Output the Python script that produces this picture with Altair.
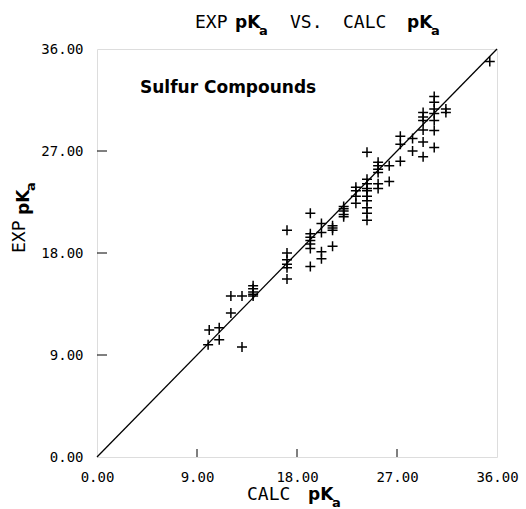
import altair as alt
import pandas as pd

# ---- data ----
calc = [10.0, 10.1, 11.0, 11.0, 12.05, 12.05, 13.05, 13.05,
        14.05, 14.05, 14.05, 14.05, 14.05,
        17.1, 17.1, 17.1, 17.1, 17.1, 17.1,
        19.2, 19.2, 19.2, 19.2, 19.2, 19.2, 19.2,
        20.2, 20.2, 20.2, 20.2,
        21.2, 21.2, 21.2, 21.2,
        22.2, 22.2, 22.2, 22.2, 22.2,
        23.3, 23.3, 23.3, 23.3,
        24.3, 24.3, 24.3, 24.3, 24.3, 24.3, 24.3, 24.3, 24.3, 24.3,
        25.3, 25.3, 25.3, 25.3, 25.3, 25.3,
        26.3, 26.3,
        27.3, 27.3, 27.3,
        28.4, 28.4,
        29.35, 29.35, 29.35, 29.35, 29.35, 29.35,
        30.35, 30.35, 30.35, 30.35, 30.35, 30.35, 30.35,
        31.4, 31.4,
        35.35]
exp = [9.9, 11.2, 11.4, 10.35, 12.7, 14.2, 14.2, 9.7,
       15.1, 14.85, 14.55, 14.35, 14.2,
       20.0, 18.0, 17.4, 17.0, 16.7, 15.7,
       21.5, 19.7, 19.4, 19.1, 18.8, 18.4, 16.8,
       20.6, 19.8, 18.1, 17.5,
       20.4, 20.2, 20.0, 18.6,
       22.1, 21.9, 21.7, 21.4, 21.2,
       23.8, 23.5, 23.0, 22.4,
       26.9, 24.5, 24.1, 23.7, 23.5, 23.0, 22.6, 22.0, 21.5, 20.9,
       26.0, 25.7, 25.4, 25.1, 24.1, 23.7,
       25.7, 24.3,
       28.3, 27.6, 26.1,
       28.1, 27.0,
       30.4, 30.0, 29.7, 28.85, 27.8, 26.5,
       31.8, 31.3, 30.7, 30.3, 29.7, 28.8, 27.3,
       30.7, 30.4,
       34.9]
axis_values = [0, 9, 18, 27, 36]
inner_ticks = [9, 18, 27]
diag = [0, 36]

W, H = 400, 408
MONO = "DejaVu Sans Mono"
SANS = "DejaVu Sans"

pts = pd.DataFrame({"calc": calc, "exp": exp})
xs = alt.Scale(domain=[0, 36], nice=False, zero=False)
ys = alt.Scale(domain=[0, 36], nice=False, zero=False)

xaxis = alt.Axis(values=axis_values, format=".2f", tickSize=0, domain=False,
                 grid=False, title=None, labelFont=MONO, labelFontSize=14,
                 labelPadding=13, labelColor="black", labelFlush=False)
yaxis = alt.Axis(values=axis_values, format=".2f", tickSize=0, domain=False,
                 grid=False, title=None, labelFont=MONO, labelFontSize=14,
                 labelPadding=14, labelColor="black", labelFlush=False)

line = alt.Chart(pd.DataFrame({"a": diag, "b": diag})).mark_line(
    color="black", strokeWidth=1.3
).encode(
    x=alt.X("a:Q", scale=xs, axis=xaxis),
    y=alt.Y("b:Q", scale=ys, axis=yaxis),
)

plus = "M-1,0L1,0M0,-1L0,1"
points = alt.Chart(pts).mark_point(
    shape=plus, size=100, strokeWidth=1.5, color="black", opacity=1, filled=False
).encode(
    x=alt.X("calc:Q", scale=xs, axis=xaxis),
    y=alt.Y("exp:Q", scale=ys, axis=yaxis),
)

tdf = pd.DataFrame({"v": inner_ticks})
xticks = alt.Chart(tdf).mark_rule(color="black", strokeWidth=1).encode(
    x=alt.X("v:Q", scale=xs, axis=xaxis), y=alt.value(H), y2=alt.value(H - 8)
)
yticks = alt.Chart(tdf).mark_rule(color="black", strokeWidth=1).encode(
    y=alt.Y("v:Q", scale=ys, axis=yaxis), x=alt.value(0), x2=alt.value(10)
)


def txt(s, x, y, size, bold=False, angle=0, font=MONO):
    kw = dict(align="left", baseline="alphabetic", fontSize=size,
              font=font, color="black", fontWeight="bold" if bold else "normal")
    if angle:
        kw["angle"] = angle
    return alt.Chart(pd.DataFrame({"t": [s]})).mark_text(**kw).encode(
        text="t:N", x=alt.value(x), y=alt.value(y))


texts = [
    # title
    txt("EXP", 98, -21, 18),
    txt("pK", 138, -21, 17, True, font=SANS),
    txt("a", 162, -14, 13, True, font=SANS),
    txt("VS.", 193, -21, 18),
    txt("CALC", 246, -21, 18),
    txt("pK", 310, -21, 17, True, font=SANS),
    txt("a", 334, -14, 13, True, font=SANS),
    # x title
    txt("CALC", 150, 451, 18),
    txt("pK", 211, 451, 17, True, font=SANS),
    txt("a", 235, 458, 13, True, font=SANS),
    # y title
    txt("EXP", -72, 204, 18, angle=270),
    txt("pK", -68, 166, 17, True, angle=270, font=SANS),
    txt("a", -62, 142, 13, True, angle=270, font=SANS),
    # annotation
    txt("Sulfur Compounds", 43, 44, 17, True, font=SANS),
]

chart = alt.layer(line, points, xticks, yticks, *texts).properties(
    width=W, height=H,
    padding={"left": 97, "top": 49, "right": 29, "bottom": 52},
    autosize=alt.AutoSizeParams(type="none"),
).configure_view(stroke="black", strokeWidth=1.5).configure(background="white")

chart.save("out.html", embed_options={"renderer": "svg", "actions": False})
